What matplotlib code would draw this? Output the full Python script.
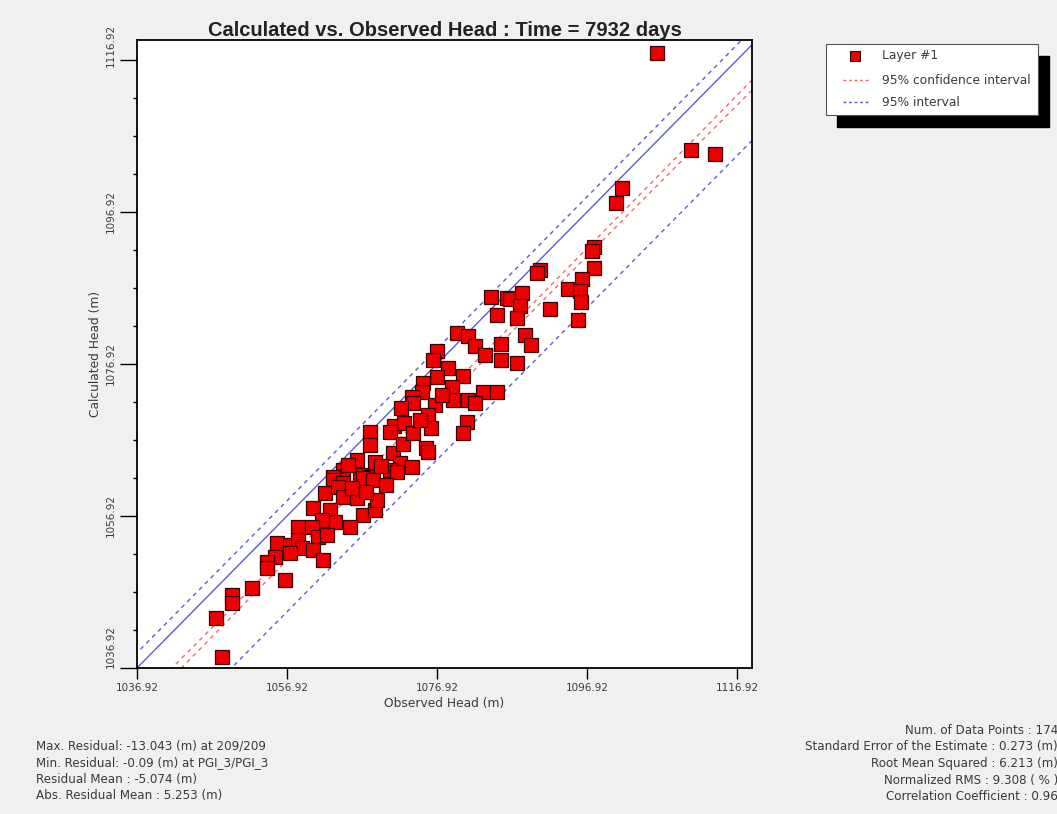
import numpy as np
import matplotlib.pyplot as plt
import matplotlib.transforms as mtransforms
from matplotlib.lines import Line2D
from matplotlib.patches import Rectangle
from matplotlib.ticker import FixedLocator

plt.rcParams['font.family'] = ['DejaVu Sans']

# observed / calculated heads (m)
observed = [1106.29, 1110.79, 1113.99, 1101.55, 1100.75, 1097.85, 1097.63, 1097.85, 1096.29, 1094.35,
            1095.99, 1096.08, 1091.99, 1095.76, 1090.65, 1090.21, 1084.08, 1086.29, 1086.65, 1088.21,
            1087.99, 1084.88, 1087.55, 1079.55, 1081.09, 1088.65, 1089.41, 1081.99, 1085.45, 1083.32,
            1085.45, 1087.55, 1076.96, 1076.35, 1078.43, 1076.96, 1080.35, 1075.09, 1078.88, 1083.09,
            1084.88, 1074.88, 1079.09, 1081.09, 1081.99, 1073.55, 1073.76, 1072.12, 1076.65, 1075.76,
            1080.96, 1080.43, 1076.12, 1071.19, 1072.52, 1067.99, 1070.65, 1067.99, 1071.09, 1072.43,
            1073.76, 1075.45, 1075.76, 1066.21, 1068.65, 1071.99, 1073.55, 1070.65, 1071.55, 1064.43,
            1063.09, 1066.65, 1067.99, 1065.09, 1063.09, 1064.43, 1067.09, 1068.43, 1061.99, 1063.76,
            1064.43, 1066.21, 1060.43, 1062.65, 1067.09, 1068.65, 1068.88, 1063.32, 1065.32, 1061.55,
            1058.43, 1060.21, 1061.09, 1062.21, 1055.55, 1057.32, 1058.43, 1058.88, 1060.43, 1057.32,
            1055.32, 1054.21, 1054.21, 1061.76, 1056.65, 1052.21, 1049.55, 1049.55, 1047.45, 1048.21,
            1065.59, 1067.45, 1069.45, 1074.65, 1077.59, 1070.12]
calculated = [1117.80, 1105.08, 1104.51, 1100.04, 1098.14, 1092.35, 1091.79, 1089.51, 1088.10, 1086.75,
              1086.56, 1085.12, 1084.20, 1082.71, 1089.29, 1088.85, 1085.78, 1085.64, 1085.43, 1086.30,
              1084.59, 1083.37, 1082.93, 1080.96, 1080.60, 1080.74, 1079.42, 1079.33, 1079.51, 1078.10,
              1077.45, 1077.01, 1078.63, 1077.45, 1076.43, 1075.25, 1075.38, 1074.38, 1073.93, 1073.28,
              1073.28, 1073.28, 1072.18, 1072.18, 1071.83, 1072.62, 1071.75, 1071.09, 1071.53, 1070.21,
              1069.33, 1067.88, 1068.46, 1068.76, 1069.12, 1068.01, 1068.01, 1066.26, 1065.25, 1066.39,
              1067.80, 1065.83, 1065.38, 1064.29, 1064.06, 1063.85, 1063.41, 1062.97, 1062.75, 1062.97,
              1062.09, 1062.31, 1062.09, 1063.63, 1061.66, 1061.22, 1061.88, 1061.66, 1059.91, 1060.78,
              1059.46, 1059.25, 1057.93, 1057.71, 1057.05, 1057.71, 1059.03, 1056.17, 1055.51, 1056.39,
              1055.51, 1055.51, 1054.20, 1054.42, 1053.33, 1053.10, 1053.76, 1052.67, 1052.45, 1052.01,
              1051.56, 1050.91, 1050.04, 1051.13, 1048.50, 1047.41, 1046.53, 1045.51, 1043.46, 1038.41,
              1060.60, 1060.08, 1063.50, 1069.55, 1072.84, 1061.00]

tick_values = [1036.92, 1056.92, 1076.92, 1096.92, 1116.92]
x_min, x_max = 1036.92, 1118.92
y_min, y_max = 1036.92, 1119.55

# interval lines (offsets from the 1:1 line, m)
line_offset = -5.3
interval_half = 7.3
conf_center, conf_a, conf_b = 1078.0, 0.45, 0.012

left_stats = ["Max. Residual: -13.043 (m) at 209/209",
              "Min. Residual: -0.09 (m) at PGI_3/PGI_3",
              "Residual Mean : -5.074 (m)",
              "Abs. Residual Mean : 5.253 (m)"]
right_stats = ["Num. of Data Points : 174",
               "Standard Error of the Estimate : 0.273 (m)",
               "Root Mean Squared : 6.213 (m)",
               "Normalized RMS : 9.308 ( % )",
               "Correlation Coefficient : 0.96"]

txt = '#3a3a3a'
W, H = 1057, 814
fig = plt.figure(figsize=(W / 100, H / 100), dpi=100)
fig.patch.set_facecolor('#f0f0f0')
ax = fig.add_axes([137 / W, 1 - 668 / H, (752 - 137) / W, (668 - 40) / H])
ax.set_facecolor('white')

xs = np.linspace(x_min - 5, x_max + 5, 200)
blue = '#5b5bd6'
red = '#f06a6a'
ax.plot(xs, xs, color=blue, lw=1.0, zorder=2)
ax.plot(xs, xs + line_offset + interval_half, color=blue, lw=1.0, dashes=(3, 3), zorder=2)
ax.plot(xs, xs + line_offset - interval_half, color=blue, lw=1.0, dashes=(3, 3), zorder=2)
half = np.sqrt(conf_a ** 2 + (conf_b * (xs - conf_center)) ** 2)
ax.plot(xs, xs + line_offset + half, color=red, lw=1.0, dashes=(3, 3), zorder=2)
ax.plot(xs, xs + line_offset - half, color=red, lw=1.0, dashes=(3, 3), zorder=2)

ax.plot(observed, calculated, 's', ms=9.8, mfc='#ee0000', mec='#3a0000', mew=0.9, zorder=3)

ax.set_xlim(x_min, x_max)
ax.set_ylim(y_min, y_max)
ax.xaxis.set_major_locator(FixedLocator(tick_values))
ax.yaxis.set_major_locator(FixedLocator(tick_values))
ax.yaxis.set_minor_locator(FixedLocator([v + k * 5 for v in tick_values[:-1] for k in (1, 2, 3)]))
ax.set_xticklabels(['%.2f' % v for v in tick_values])
ax.set_yticklabels(['%.2f' % v for v in tick_values], rotation=90, va='center')
ax.tick_params(axis='x', which='major', direction='out', length=8, width=1.0, labelsize=7.5,
               labelcolor=txt, pad=3)
ax.tick_params(axis='y', which='major', direction='out', length=12, width=1.0, labelsize=7.5,
               labelcolor=txt, pad=3)
ax.tick_params(axis='y', which='minor', direction='out', length=3, width=1.0)
for s in ax.spines.values():
    s.set_linewidth(1.3)

# end labels on the y axis sit above their ticks
yticks = ax.yaxis.get_major_ticks()
for tk, shift in ((yticks[0], 21), (yticks[-1], 15)):
    lab = tk.label1
    lab.set_transform(lab.get_transform() + mtransforms.ScaledTranslation(0, shift / 100, fig.dpi_scale_trans))

ax.set_xlabel('Observed Head (m)', fontsize=8.8, color=txt, labelpad=3)
ax.set_ylabel('Calculated Head (m)', fontsize=8.8, color=txt, labelpad=3)
fig.text(444.5 / W, 1 - 36 / H, 'Calculated vs. Observed Head : Time = 7932 days',
         ha='center', va='baseline', fontsize=14.5, fontweight='bold', color='#222222',
         family='Liberation Sans')

# legend box with hard black shadow
fig.add_artist(Rectangle((837 / W, 1 - 127 / H), 212 / W, 71 / H, transform=fig.transFigure,
                         facecolor='black', edgecolor='black', zorder=1))
fig.add_artist(Rectangle((826 / W, 1 - 115 / H), 212 / W, 71 / H, transform=fig.transFigure,
                         facecolor='white', edgecolor='#555555', lw=0.8, zorder=2))
fig.add_artist(Line2D([855 / W], [1 - 56 / H], transform=fig.transFigure, marker='s', ms=7,
                      mfc='#ee0000', mec='#3a0000', mew=0.8, ls='none', zorder=3))
fig.add_artist(Line2D([843 / W, 868 / W], [1 - 80 / H] * 2, transform=fig.transFigure,
                      color=red, lw=1.0, dashes=(2, 2), zorder=3))
fig.add_artist(Line2D([843 / W, 868 / W], [1 - 102 / H] * 2, transform=fig.transFigure,
                      color=blue, lw=1.0, dashes=(2, 2), zorder=3))
for label, py in zip(['Layer #1', '95% confidence interval', '95% interval'], [56, 80, 102]):
    fig.text(882 / W, 1 - py / H, label, fontsize=8.8, color=txt, va='center', zorder=4)

for i, t in enumerate(left_stats):
    fig.text(36 / W, 1 - (746 + i * 16.5) / H, t, fontsize=8.6, color=txt, va='center')
for i, t in enumerate(right_stats):
    fig.text(1058 / W, 1 - (730 + i * 16.7) / H, t, fontsize=8.6, color=txt, va='center', ha='right')

fig.savefig('out.png', dpi=100, facecolor=fig.get_facecolor())
